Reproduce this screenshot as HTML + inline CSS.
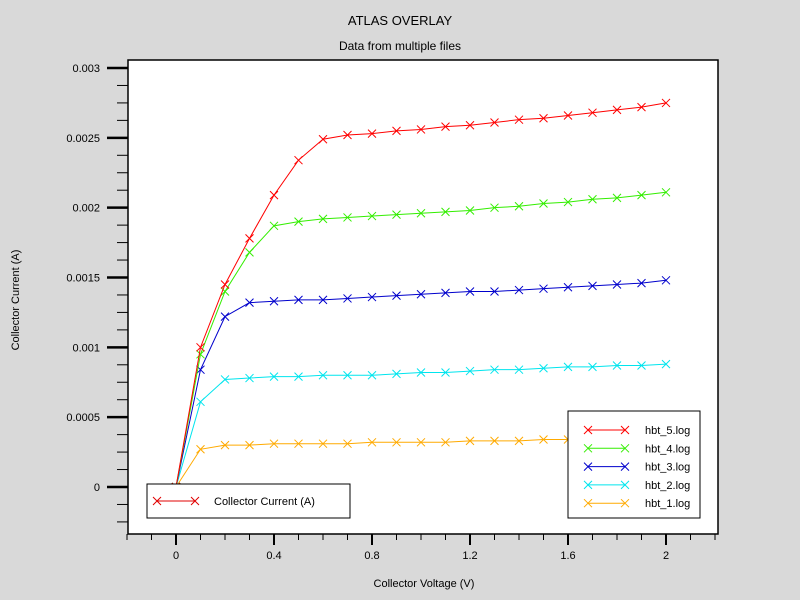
<!DOCTYPE html>
<html><head><meta charset="utf-8"><style>
body{margin:0;background:#d9d9d9;}
svg{display:block;font-family:"Liberation Sans",sans-serif;}
</style></head><body>
<svg id="c" width="800" height="600">
<rect width="800" height="600" fill="#d9d9d9"/>
<text x="400" y="25" text-anchor="middle" font-size="13">ATLAS OVERLAY</text>
<text x="400" y="50" text-anchor="middle" font-size="12">Data from multiple files</text>
<rect x="128" y="60" width="590" height="474" fill="#fff" stroke="#000" stroke-width="1.5"/>
<g id="axes"></g>
<g id="series"></g>
<text x="424" y="587" text-anchor="middle" font-size="11">Collector Voltage (V)</text>
<text transform="translate(19,300) rotate(-90)" text-anchor="middle" font-size="11">Collector Current (A)</text>
<g>
<rect x="147" y="484" width="203" height="34" fill="#fff" stroke="#000"/>
<line x1="157" y1="501" x2="195" y2="501" stroke="#e00000"/>
<path d="M153,497l8,8M161,497l-8,8M191,497l8,8M199,497l-8,8" stroke="#e00000" fill="none"/>
<text x="214" y="505" font-size="11">Collector Current (A)</text>
</g>
<g id="legend"><rect x="568" y="411" width="132" height="107" fill="#fff" stroke="#000"/></g>
</svg>
<script>
const xVals=[0,0.1,0.2,0.3,0.4,0.5,0.6,0.7,0.8,0.9,1.0,1.1,1.2,1.3,1.4,1.5,1.6,1.7,1.8,1.9,2.0];
const hbt5=[0,0.00100,0.00145,0.00178,0.00209,0.00234,0.00249,0.00252,0.00253,0.00255,0.00256,0.00258,0.00259,0.00261,0.00263,0.00264,0.00266,0.00268,0.00270,0.00272,0.00275];
const hbt4=[0,0.00095,0.00140,0.00168,0.00187,0.00190,0.00192,0.00193,0.00194,0.00195,0.00196,0.00197,0.00198,0.00200,0.00201,0.00203,0.00204,0.00206,0.00207,0.00209,0.00211];
const hbt3=[0,0.00084,0.00122,0.00132,0.00133,0.00134,0.00134,0.00135,0.00136,0.00137,0.00138,0.00139,0.00140,0.00140,0.00141,0.00142,0.00143,0.00144,0.00145,0.00146,0.00148];
const hbt2=[0,0.00061,0.00077,0.00078,0.00079,0.00079,0.00080,0.00080,0.00080,0.00081,0.00082,0.00082,0.00083,0.00084,0.00084,0.00085,0.00086,0.00086,0.00087,0.00087,0.00088];
const hbt1=[0,0.00027,0.00030,0.00030,0.00031,0.00031,0.00031,0.00031,0.00032,0.00032,0.00032,0.00032,0.00033,0.00033,0.00033,0.00034,0.00034,0.00034,0.00034,0.00035,0.00035];
const seriesNames=["hbt_5.log","hbt_4.log","hbt_3.log","hbt_2.log","hbt_1.log"];
const xTickLabels=["0","0.4","0.8","1.2","1.6","2"];
const yTickLabels=["0","0.0005","0.001","0.0015","0.002","0.0025","0.003"];
const NS="http://www.w3.org/2000/svg";
const sx=v=>176+v*245, sy=v=>487-v*139666.7;
function mk(t,a,p){const e=document.createElementNS(NS,t);for(const k in a)e.setAttribute(k,a[k]);p.appendChild(e);return e;}
const ax=document.getElementById('axes');
for(let i=-2;i<=22;i++){const x=sx(i/10);const major=i%4===0;
 const l=mk('line',{x1:x,x2:x,y1:534,y2:major?545:540,stroke:'#000','stroke-width':major?2:1},ax);
 
 }
xTickLabels.forEach(s=>{const t=mk('text',{x:sx(+s),y:559,'text-anchor':'middle','font-size':11},ax);t.textContent=s;
 
 });
for(let i=-3;i<=24;i++){const v=i*0.000125;const y=sy(v);if(y<62||y>533)continue;const major=i%4===0;
 const l=mk('line',{x1:major?107:117,x2:128,y1:y,y2:y,stroke:'#000','stroke-width':major?2.5:1},ax);
 
 }
yTickLabels.forEach(s=>{const t=mk('text',{x:100,y:sy(+s)+4,'text-anchor':'end','font-size':11},ax);t.textContent=s;
 
 });
const data=[hbt5,hbt4,hbt3,hbt2,hbt1];
const colors=["#ff0000","#33ee00","#0000cc","#00e5ee","#ffaa00"];
const sg=document.getElementById('series');
function cross(x,y,c,p){mk('path',{d:`M${x-4},${y-4}L${x+4},${y+4}M${x+4},${y-4}L${x-4},${y+4}`,stroke:c,fill:'none'},p);}
for(let k=4;k>=0;k--){const g=mk('g',{},sg);
 
 
 mk('polyline',{points:xVals.map((x,i)=>sx(x)+','+sy(data[k][i])).join(' '),fill:'none',stroke:colors[k]},g);
 xVals.forEach((x,i)=>cross(sx(x),sy(data[k][i]),colors[k],g));}
const lg=document.getElementById('legend');
seriesNames.forEach((n,k)=>{const y=430+k*18.3;const g=mk('g',{},lg);
 
 
 mk('line',{x1:588,x2:625,y1:y,y2:y,stroke:colors[k]},g);
 cross(588,y,colors[k],g);cross(625,y,colors[k],g);
 const t=mk('text',{x:645,y:y+4,'font-size':11},g);t.textContent=n;});
</script>
</body></html>
